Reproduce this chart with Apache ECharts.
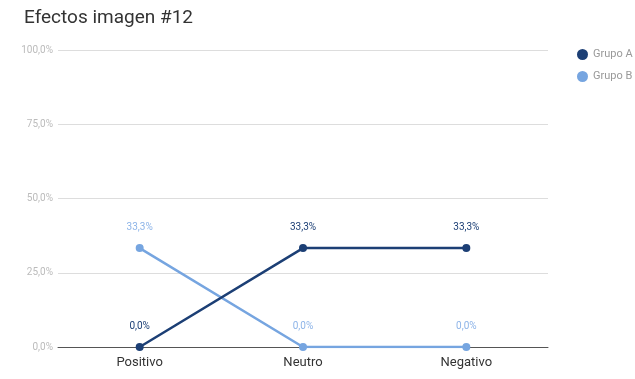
<!DOCTYPE html>
<html><head><meta charset="utf-8">
<script src="https://cdn.jsdelivr.net/npm/echarts@6/dist/echarts.min.js"></script>
<style>html,body{margin:0;padding:0;background:#fff}#c{width:635px;height:379px}</style>
</head><body><div id="c"></div>
<script>
const categories = ["Positivo", "Neutro", "Negativo"];
const grupoA = [0, 33.3, 33.3];
const grupoB = [33.3, 0, 0];
const yTicks = [0, 25, 50, 75, 100];

const fmt = v => v.toFixed(1).replace('.', ',') + '%';
const chart = echarts.init(document.getElementById('c'));
chart.setOption({
  animation: false,
  title: { text: 'Efectos imagen #12', left: 19, top: 4, textStyle: { fontFamily: 'Roboto', fontSize: 19, fontWeight: 'normal', color: '#333' } },
  legend: {
    orient: 'vertical', left: 572, top: 44, itemGap: 11, itemWidth: 11, itemHeight: 11, icon: 'circle',
    textStyle: { fontFamily: 'Roboto', fontSize: 11, color: '#999' },
    data: ['Grupo A', 'Grupo B']
  },
  grid: { left: 58, right: 87, top: 50, bottom: 32 },
  xAxis: {
    type: 'category', data: categories, boundaryGap: true,
    axisLine: { lineStyle: { color: '#555', width: 1 } },
    axisTick: { show: false },
    axisLabel: { fontFamily: 'Roboto', fontSize: 13, color: '#333', margin: 9 }
  },
  yAxis: {
    type: 'value', min: yTicks[0], max: yTicks[yTicks.length - 1], interval: 25,
    axisLine: { show: false }, axisTick: { show: false },
    splitLine: { lineStyle: { color: '#ddd' } },
    axisLabel: { fontFamily: 'Roboto', fontSize: 10, color: '#bbb', margin: 5, formatter: v => fmt(v) }
  },
  series: [
    {
      name: 'Grupo A', type: 'line', data: grupoA, symbol: 'circle', symbolSize: 8,
      itemStyle: { color: '#1c3f75' }, lineStyle: { width: 2.5, color: '#1c3f75' },
      label: { show: true, position: 'top', distance: 12, fontFamily: 'Roboto', fontSize: 10, color: '#1c3f75', formatter: p => fmt(p.value) },
      z: 3
    },
    {
      name: 'Grupo B', type: 'line', data: grupoB, symbol: 'circle', symbolSize: 8,
      itemStyle: { color: '#76a5e0' }, lineStyle: { width: 2.5, color: '#76a5e0' },
      label: { show: true, position: 'top', distance: 12, fontFamily: 'Roboto', fontSize: 10, color: '#8db4e8', formatter: p => fmt(p.value) },
      z: 2
    }
  ]
});
</script></body></html>
